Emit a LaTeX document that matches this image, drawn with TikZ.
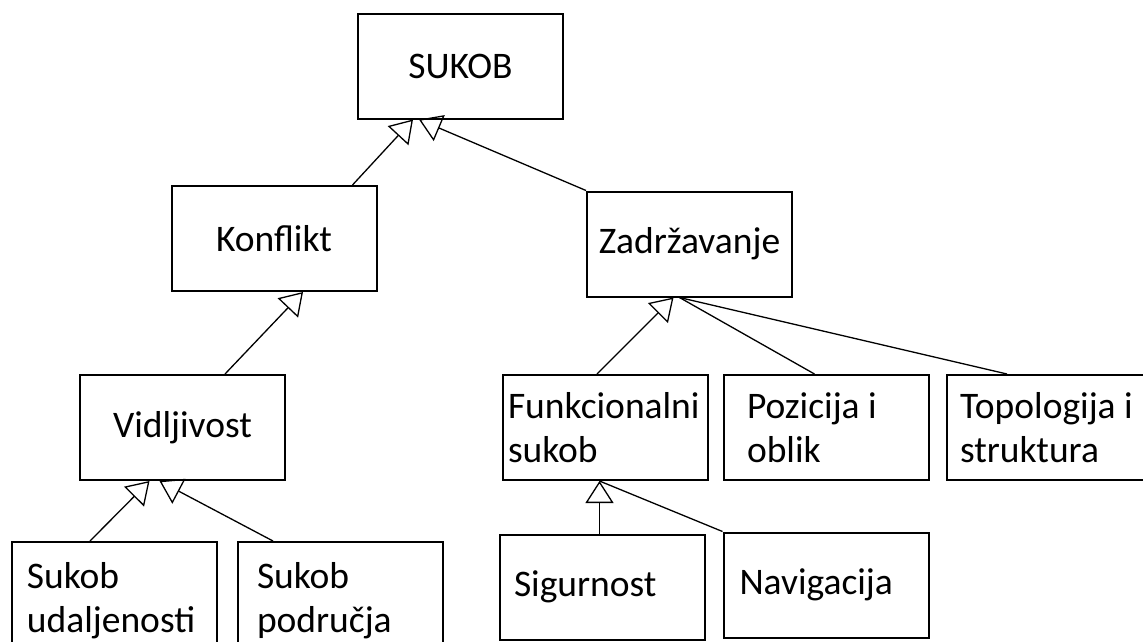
\documentclass[tikz,border=0pt]{standalone}
\usepackage{fontspec}
\setmainfont{Carlito}
\usetikzlibrary{positioning,calc,arrows.meta}

\begin{document}
\begin{tikzpicture}[x=1pt,y=-1pt,node distance=14pt,
    box/.style={draw,line width=2pt,minimum width=205pt,minimum height=105pt,
      inner sep=0pt,font=\fontsize{37.5}{44}\selectfont},
    lbox/.style={box,align=flush left,text width=#1},
    gen/.style={line width=1.3pt,
      -{Triangle[open,length=22pt,width=28pt,line width=1.3pt]}},
    tie/.style={line width=1.3pt}]
  \useasboundingbox (0,0) rectangle (1143,641);
  \clip (0,0) rectangle (1143,641);

  \node[box](sukob) at (460.5,66){SUKOB};
  \node[box](konflikt) at (274,238.5){Konflikt};
  \node[box](zadrz) at (689.5,244){Zadržavanje};
  \node[box](vidlj) at (182.5,427.5){Vidljivost};
  \node[lbox=195pt](funkc) at (605.5,427.5){Funkcionalni\\sukob};
  \node[lbox=159pt,right=14pt of funkc](pozic){Pozicija i\\oblik};
  \node[lbox=179pt,right=16pt of pozic](topol){Topologija i\\struktura};
  \node[lbox=175pt,minimum height=117pt](sukud) at (114.5,600.5){Sukob\\udaljenosti};
  \node[lbox=167pt,minimum height=117pt,right=19pt of sukud](sukpod){Sukob\\područja};
  \node[lbox=177pt](sigur) at (602.5,587){Sigurnost};
  \node[lbox=173pt](navig) at (826,585){Navigacija};

  % points where the lines meet the upper boxes
  \coordinate (sukobA) at ([xshift=56pt]sukob.south west);
  \coordinate (sukobB) at ([xshift=62pt]sukob.south west);
  \coordinate (konfliktA) at ([xshift=29pt]konflikt.south);
  \coordinate (zadrzA) at ([xshift=-16pt]zadrz.south);
  \coordinate (zadrzB) at ([xshift=-10pt]zadrz.south);
  \coordinate (vidljA) at ([xshift=-33pt]vidlj.south);
  \coordinate (vidljB) at ([xshift=-23pt]vidlj.south);
  \coordinate (funkcA) at ([xshift=-6pt]funkc.south);

  \path[gen]
  ([xshift=-25pt]konflikt.north east) edge (sukobA)
  (zadrz.north west) edge (sukobB)
  ([xshift=42.5pt]vidlj.north) edge (konfliktA)
  ([xshift=-8.5pt]funkc.north) edge (zadrzA)
  ([xshift=-24.5pt]sukud.north) edge (vidljA)
  ([xshift=-67.5pt]sukpod.north) edge (vidljB)
  (funkcA |- sigur.north) edge (funkcA);

  \path[tie]
  ([xshift=-12pt]pozic.north) edge (zadrzB)
  ([xshift=-42.5pt]topol.north) edge (zadrzB)
  (navig.north west) edge (funkcA);
\end{tikzpicture}
\end{document}
